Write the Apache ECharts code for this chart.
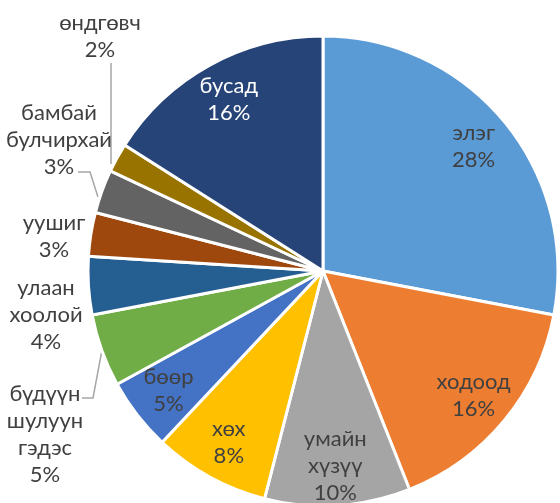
<!DOCTYPE html>
<html>
<head>
<meta charset="utf-8">
<script src="https://cdn.jsdelivr.net/npm/echarts@6/dist/echarts.min.js"></script>
<style>
  html, body { margin: 0; padding: 0; background: #fff; }
  #chart { width: 560px; height: 503px; }
</style>
</head>
<body>
<div id="chart"></div>
<script>
// Cancer sites, share of cases (%)
const categories = ['элэг', 'ходоод', 'умайн хүзүү', 'хөх', 'бөөр', 'бүдүүн шулуун гэдэс',
                    'улаан хоолой', 'уушиг', 'бамбай булчирхай', 'өндгөвч', 'бусад'];
const values = [28, 16, 10, 8, 5, 5, 4, 3, 3, 2, 16];
const colors = ['#5B9BD5', '#ED7D31', '#A5A5A5', '#FFC000', '#4472C4', '#70AD47',
                '#255E91', '#9E480E', '#636363', '#997300', '#264478'];
// slices whose label sits inside the wedge
const insideLabels = ['элэг', 'ходоод', 'умайн хүзүү', 'хөх', 'бөөр', 'бусад'];
// outside labels that get a leader line
const leaderLines = ['бүдүүн шулуун гэдэс', 'бамбай булчирхай', 'өндгөвч'];

const FONT = 'Lato, "Open Sans", sans-serif';
const TEXT = '#404040';
const labelText = p => p.name.replace(/ /g, '\n') + '\n' + p.value + '%';
const CENTER = [323, 271];
const R = 235;

// Stacked label blocks down the left-hand side, with the elbow points of their leader lines
// (end: where the line meets the wedge, when not at the wedge's middle)
const outerLabelSpots = {
  'өндгөвч':             { x: 100, y: 36,  bend: [[111, 63], [111, 120]], end: [111, 164] },
  'бамбай булчирхай':    { x: 59,  y: 140, bend: [[78, 172], [90, 172]], end: [98, 197] },
  'уушиг':               { x: 54,  y: 236 },
  'улаан хоолой':        { x: 46,  y: 315 },
  'бүдүүн шулуун гэдэс': { x: 45,  y: 434, bend: [[82, 398], [93, 398]] }
};

const chart = echarts.init(document.getElementById('chart'), null, { renderer: 'canvas' });

const mainData = categories.map((name, i) => {
  const inside = insideLabels.includes(name);
  return {
    name,
    value: values[i],
    itemStyle: { color: colors[i] },
    label: { show: !inside },
    labelLine: { show: !inside && leaderLines.includes(name) }
  };
});

// transparent ring that only carries the inside labels, set further out along each wedge
const ringData = categories.map((name, i) => ({
  name,
  value: values[i],
  label: {
    show: insideLabels.includes(name),
    color: name === 'бусад' ? '#ffffff' : TEXT
  }
}));

chart.setOption({
  animation: false,
  series: [
    {
      type: 'pie',
      center: CENTER,
      radius: [0, R],
      startAngle: 90,
      clockwise: true,
      avoidLabelOverlap: false,
      itemStyle: { borderColor: '#fff', borderWidth: 3 },
      label: {
        position: 'outside',
        formatter: labelText,
        fontFamily: FONT,
        fontSize: 22,
        lineHeight: 27,
        width: 140,
        color: TEXT,
        align: 'center'
      },
      labelLine: {
        length: 10,
        length2: 10,
        lineStyle: { color: '#A6A6A6', width: 1.5 }
      },
      labelLayout: function (params) {
        const spot = outerLabelSpots[categories[params.dataIndex]];
        if (!spot) return;
        const out = { x: spot.x, y: spot.y, align: 'center', verticalAlign: 'middle' };
        if (spot.bend && params.labelLinePoints) {
          const end = spot.end || params.labelLinePoints[0];
          out.labelLinePoints = [end, spot.bend[1], spot.bend[0]];
        }
        return out;
      },
      emphasis: { disabled: true },
      data: mainData
    },
    {
      type: 'pie',
      center: CENTER,
      radius: [150, R],
      startAngle: 90,
      clockwise: true,
      silent: true,
      itemStyle: { color: 'transparent' },
      label: {
        position: 'inside',
        formatter: labelText,
        fontFamily: FONT,
        fontSize: 22,
        lineHeight: 27,
        color: TEXT,
        align: 'center'
      },
      labelLine: { show: false },
      emphasis: { disabled: true },
      data: ringData
    }
  ]
});
</script>
</body>
</html>
